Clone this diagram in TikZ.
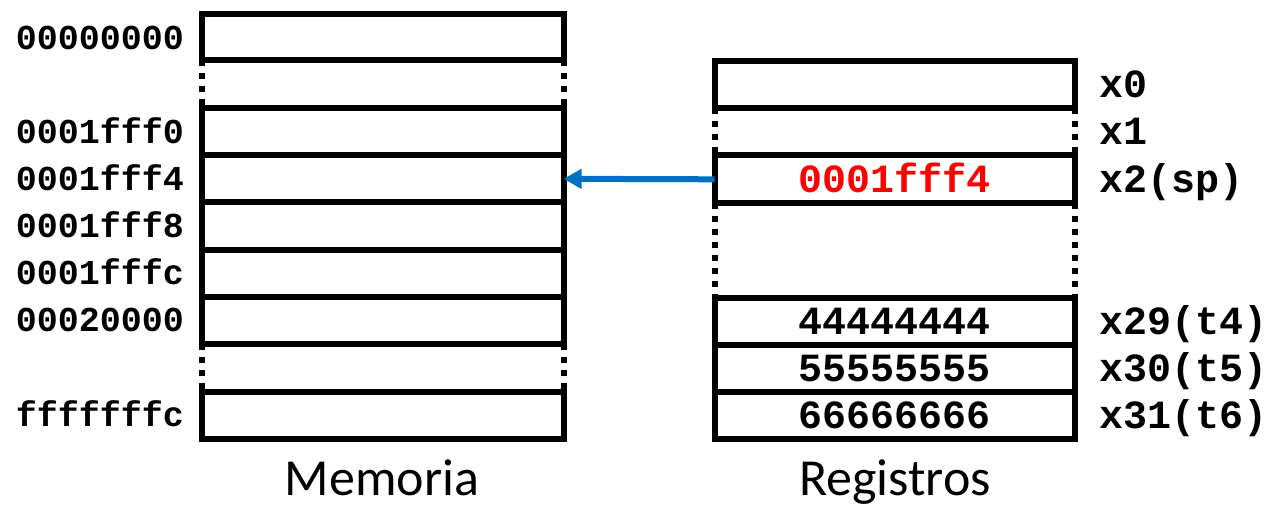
\documentclass[tikz,border=0pt]{standalone}
\usepackage{fontspec}
\setmonofont{Liberation Mono}
\newfontfamily\calibri{Carlito}
\usetikzlibrary{arrows.meta}
\definecolor{arrowblue}{HTML}{0070C0}
\definecolor{valred}{HTML}{FF0000}
\tikzset{
  memcell/.style={draw=black, line width=6pt, minimum width=362pt, minimum height=47pt, inner sep=0pt, outer sep=0pt},
  regcell/.style={draw=black, line width=6pt, minimum width=360pt, minimum height=47pt, inner sep=0pt, outer sep=0pt},
  dotside/.style={line width=6pt, dash pattern=on 6pt off 7pt},
  addr/.style={font=\fontsize{35}{35}\selectfont\ttfamily\bfseries, anchor=east, inner sep=0pt, text height=23pt, text depth=0pt},
  regname/.style={font=\fontsize{40}{40}\selectfont\ttfamily\bfseries, anchor=west, inner sep=0pt, text height=26pt, text depth=0pt},
  regval/.style={font=\fontsize{40}{40}\selectfont\ttfamily\bfseries, inner sep=0pt, text height=26pt, text depth=0pt},
  caption/.style={font=\fontsize{52}{52}\selectfont\calibri, anchor=base, inner sep=0pt},
  ptr/.style={draw=arrowblue, line width=6pt, -{Triangle[length=18pt,width=19pt]}}
}
\begin{document}
\begin{tikzpicture}[x=1pt,y=-1pt]
\useasboundingbox (0,0) rectangle (1283,507);
% Memory cells
\node[memcell, minimum height=46.6pt] (m0) at (382.6,37) {};
\node[memcell, minimum height=47.2pt] (m1) at (382.6,131.6) {};
\node[memcell, minimum height=47.2pt] (m2) at (382.6,178.8) {};
\node[memcell, minimum height=47.2pt] (m3) at (382.6,226) {};
\node[memcell, minimum height=47.2pt] (m4) at (382.6,273.2) {};
\node[memcell, minimum height=47.2pt] (m5) at (382.6,320.4) {};
\node[memcell, minimum height=47pt] (m6) at (382.6,415) {};
\draw[dotside] (m0.south west) -- (m1.north west);
\draw[dotside] (m0.south east) -- (m1.north east);
\draw[dotside] (m5.south west) -- (m6.north west);
\draw[dotside] (m5.south east) -- (m6.north east);
% Memory addresses
\node[addr] (a0) at (184,37.5) {00000000};
\node[addr] (a1) at (184,131.6) {0001fff0};
\node[addr] (a2) at (184,178.8) {0001fff4};
\node[addr] (a3) at (184,226) {0001fff8};
\node[addr] (a4) at (184,273.2) {0001fffc};
\node[addr] (a5) at (184,320.4) {00020000};
\node[addr] (a6) at (184,415) {fffffffc};
% Registers
\node[regcell] (r0) at (894.6,84) {};
\node[regcell, minimum height=48pt] (r2) at (894.6,179.3) {};
\node[regcell] (r29) at (894.6,321.5) {};
\node[regcell] (r30) at (894.6,368.5) {};
\node[regcell] (r31) at (894.6,415.5) {};
\draw[dotside] (r0.south west) -- (r2.north west);
\draw[dotside] (r0.south east) -- (r2.north east);
\draw[dotside] (r2.south west) -- (r29.north west);
\draw[dotside] (r2.south east) -- (r29.north east);
% Register values
\node[regval, text=valred] (v2) at (r2.center) {0001fff4};
\node[regval] (v29) at (r29.center) {44444444};
\node[regval] (v30) at (r30.center) {55555555};
\node[regval] (v31) at (r31.center) {66666666};
% Register names
\node[regname] (n0) at (1099,84) {x0};
\node[regname] (n1) at (1099,131.5) {x1};
\node[regname] (n2) at (1099,179.3) {x2(sp)};
\node[regname] (n29) at (1099,321.5) {x29(t4)};
\node[regname] (n30) at (1099,368.5) {x30(t5)};
\node[regname] (n31) at (1099,415.5) {x31(t6)};
% Arrow
\draw[ptr] (r2.west) -- (m2.east);
% Captions
\node[caption] (cm) at (382,495) {Memoria};
\node[caption] (cr) at (895,495) {Registros};
\end{tikzpicture}
\end{document}
